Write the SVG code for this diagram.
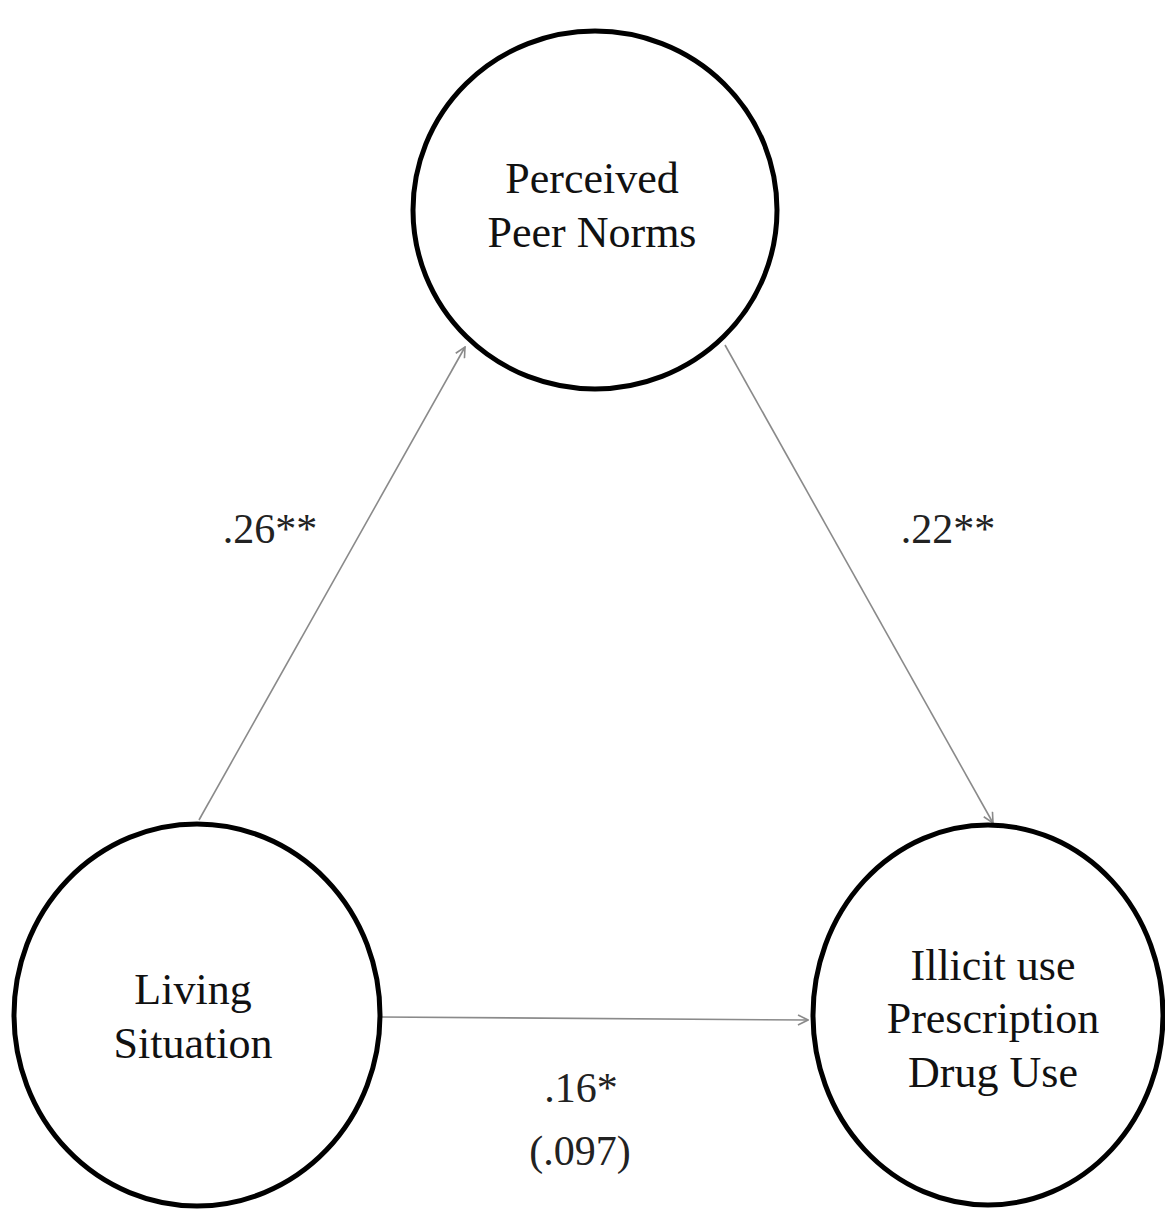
<svg xmlns="http://www.w3.org/2000/svg" width="1165" height="1210" viewBox="0 0 1165 1210">
<style>
.node{fill:#fff;stroke:#000;stroke-width:5}
.lbl{font-family:"Liberation Serif","Times New Roman",serif;font-size:44px;fill:#111;text-anchor:middle}
.coef{font-family:"Liberation Serif","Times New Roman",serif;font-size:42px;fill:#222;text-anchor:middle}
.edge{stroke:#8a8a8a;stroke-width:1.6;fill:none;marker-end:url(#arr)}
</style>
<defs>
<marker id="arr" viewBox="0 0 12 12" refX="11" refY="6" markerWidth="12" markerHeight="12" markerUnits="userSpaceOnUse" orient="auto">
<path d="M1,1 L11,6 L1,11" fill="none" stroke="#8a8a8a" stroke-width="1.6"/>
</marker>
</defs>
<rect width="1165" height="1210" fill="#fff"/>
<g id="connectors">
<line class="edge" x1="199" y1="820" x2="465" y2="347"/>
<line class="edge" x1="725" y1="345" x2="993" y2="823"/>
<line class="edge" x1="380" y1="1017" x2="808" y2="1020"/>
</g>
<g id="node-peer">
<ellipse class="node" cx="595" cy="210" rx="182" ry="179"/>
<text class="lbl" x="592" y="193">Perceived</text>
<text class="lbl" x="592" y="247">Peer Norms</text>
</g>
<g id="node-living">
<ellipse class="node" cx="197" cy="1015" rx="183" ry="191"/>
<text class="lbl" x="193" y="1004">Living</text>
<text class="lbl" x="193" y="1058">Situation</text>
</g>
<g id="node-illicit">
<ellipse class="node" cx="988" cy="1015" rx="175" ry="190"/>
<text class="lbl" x="993" y="980">Illicit use</text>
<text class="lbl" x="993" y="1033">Prescription</text>
<text class="lbl" x="993" y="1087">Drug Use</text>
</g>
<g id="labels">
<text class="coef" x="270" y="543">.26**</text>
<text class="coef" x="948" y="543">.22**</text>
<text class="coef" x="581" y="1102">.16*</text>
<text class="coef" x="580" y="1165">(.097)</text>
</g>
</svg>
